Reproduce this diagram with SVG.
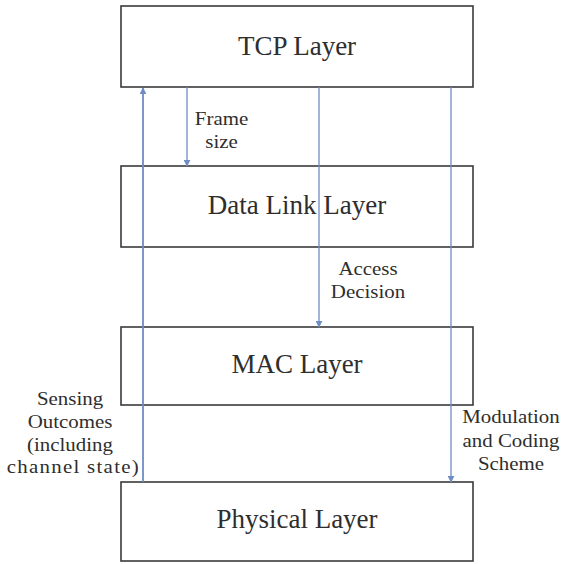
<svg xmlns="http://www.w3.org/2000/svg" width="564" height="564" viewBox="0 0 564 564">
<defs>
<style>
.box{fill:#fff;stroke:#3a3a3a;stroke-width:1.6}
text{font-family:"Liberation Serif","Times New Roman",serif;fill:#2e2e2e;text-anchor:middle}
.big{font-size:27px}
.lab text{font-size:19px}
.c{stroke:#6f8cc4;stroke-width:1.3;fill:none}
</style>
<marker id="ah" viewBox="0 0 10 10" refX="9" refY="5" markerWidth="7" markerHeight="7" orient="auto" markerUnits="userSpaceOnUse">
<path d="M0,0 L10,5 L0,10 z" fill="#6f8cc4"/>
</marker>
</defs>
<rect width="564" height="564" fill="#fff"/>
<g id="tcp"><rect class="box" x="121" y="6" width="352" height="81"/><text class="big" x="297" y="55">TCP Layer</text></g>
<g id="datalink"><rect class="box" x="121" y="166" width="352" height="81"/><text class="big" x="297" y="214">Data Link Layer</text></g>
<g id="mac"><rect class="box" x="121" y="327" width="352" height="78"/><text class="big" x="297" y="373">MAC Layer</text></g>
<g id="physical"><rect class="box" x="121" y="482" width="352" height="79"/><text class="big" x="297" y="528">Physical Layer</text></g>
<g id="connectors">
<line class="c" x1="143" y1="482" x2="143" y2="88" marker-end="url(#ah)" style="stroke-width:1.8"/>
<line class="c" x1="187" y1="87" x2="187" y2="166" marker-end="url(#ah)"/>
<line class="c" x1="319" y1="87" x2="319" y2="327" marker-end="url(#ah)"/>
<line class="c" x1="451" y1="87" x2="451" y2="482" marker-end="url(#ah)"/>
<g class="lab" transform="translate(221.5 0) scale(1.1 1)">
<text x="0" y="125">Frame</text>
<text x="0" y="148">size</text>
</g>
<g class="lab" transform="translate(368 0) scale(1.1 1)">
<text x="0" y="275">Access</text>
<text x="0" y="298">Decision</text>
</g>
<g class="lab" transform="translate(70 0) scale(1.1 1)">
<text x="0" y="405">Sensing</text>
<text x="0" y="428">Outcomes</text>
<text x="0" y="451">(including</text>
<text x="2.5" y="473" textLength="120" lengthAdjust="spacing">channel state)</text>
</g>
<g class="lab" transform="translate(511 0) scale(1.1 1)">
<text x="0" y="423">Modulation</text>
<text x="0" y="447">and Coding</text>
<text x="0" y="470">Scheme</text>
</g>
</g>
</svg>
